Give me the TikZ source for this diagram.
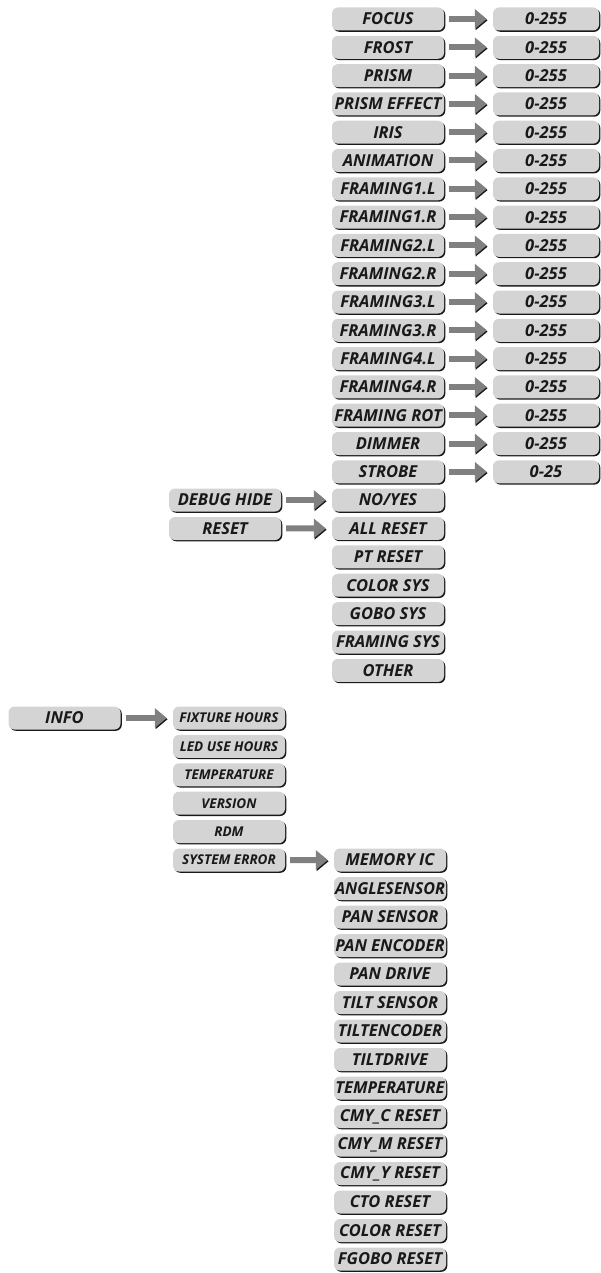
\documentclass[tikz,border=0pt]{standalone}
\usepackage{fontspec}
\setmainfont{Open Sans}
\usetikzlibrary{arrows.meta, shadows}

\definecolor{boxgray}{RGB}{212,212,212}
\definecolor{arrowgray}{RGB}{128,128,128}
\definecolor{edgedark}{RGB}{25,25,25}

% squeeze a label that is wider than the box
\newsavebox\lblbox
\newcommand\fitlabel[1]{\sbox\lblbox{#1}%
  \ifdim\wd\lblbox>110pt\resizebox{110pt}{\height}{\usebox\lblbox}\else\usebox\lblbox\fi}

\tikzset{
    menubox/.style={rounded corners=6pt, fill=boxgray, text=edgedark,
        minimum width=112pt, minimum height=23pt, inner sep=0pt,
        general shadow={fill=edgedark, shadow xshift=1.3pt, shadow yshift=-1.3pt},
        font=\bfseries\itshape\fontsize{16.5}{16.5}\selectfont},
    valbox/.style={menubox, minimum width=106pt},
    smallbox/.style={menubox, font=\bfseries\itshape\fontsize{13.5}{13.5}\selectfont},
    goarrow/.style={line width=6pt, draw=arrowgray, -{Triangle[length=12pt, width=19pt]},
        shorten <=5pt, shorten >=6pt,
        preaction={draw=edgedark, transform canvas={shift={(0.8pt,-1.3pt)}}}},
}

\begin{document}
\begin{tikzpicture}[x=1pt, y=-1pt]
    \useasboundingbox (0, 0) rectangle (601, 1273);

    % channel list
    \foreach \lbl/\rng [count=\i from 0] in {FOCUS/0-255, FROST/0-255, PRISM/0-255,
        PRISM EFFECT/0-255, IRIS/0-255, ANIMATION/0-255, FRAMING1.L/0-255,
        FRAMING1.R/0-255, FRAMING2.L/0-255, FRAMING2.R/0-255, FRAMING3.L/0-255,
        FRAMING3.R/0-255, FRAMING4.L/0-255, FRAMING4.R/0-255, FRAMING ROT/0-255,
        DIMMER/0-255, STROBE/0-25} {
        \node[menubox] (ch\i) at (388, {19+28.3*\i}) {\fitlabel{\lbl}};
        \node[valbox] (val\i) at (546, {19+28.3*\i}) {\rng};
        \draw[goarrow] (ch\i) -- (val\i);
    }

    % debug hide and reset
    \node[menubox] (debug) at (225, 500) {DEBUG HIDE};
    \node[menubox] (reset) at (225, 528.5) {RESET};
    \foreach \lbl [count=\i from 0] in {NO/YES, ALL RESET, PT RESET, COLOR SYS,
        GOBO SYS, FRAMING SYS, OTHER} {
        \node[menubox] (rs\i) at (388, {500+28.4*\i}) {\fitlabel{\lbl}};
    }
    \draw[goarrow] (debug) -- (rs0);
    \draw[goarrow] (reset) -- (rs1);

    % info
    \node[menubox] (info) at (64.5, 718) {INFO};
    \foreach \lbl [count=\i from 0] in {FIXTURE HOURS, LED USE HOURS, TEMPERATURE,
        VERSION, RDM, SYSTEM ERROR} {
        \node[smallbox] (inf\i) at (229, {718+28.4*\i}) {\fitlabel{\lbl}};
    }
    \draw[goarrow] (info) -- (inf0);

    % system errors
    \foreach \lbl [count=\i from 0] in {MEMORY IC, ANGLESENSOR, PAN SENSOR,
        PAN ENCODER, PAN DRIVE, TILT SENSOR, TILTENCODER, TILTDRIVE, TEMPERATURE,
        CMY\_C RESET, CMY\_M RESET, CMY\_Y RESET, CTO RESET, COLOR RESET, FGOBO RESET} {
        \node[menubox] (err\i) at (390, {860+28.5*\i}) {\fitlabel{\lbl}};
    }
    \draw[goarrow] (inf5) -- (err0);
\end{tikzpicture}
\end{document}
